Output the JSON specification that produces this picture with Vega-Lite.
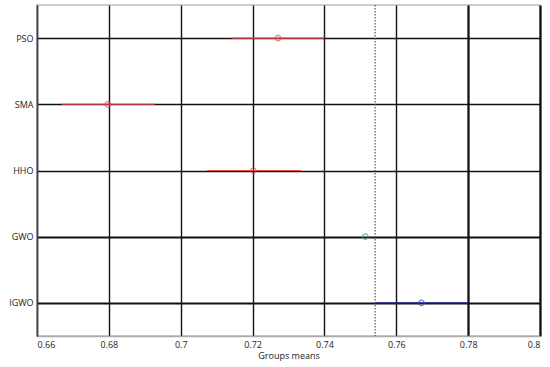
{
  "$schema": "https://vega.github.io/schema/vega-lite/v6.json",
  "width": 503,
  "height": 331,
  "autosize": {"type": "none"},
  "padding": {"left": 37, "top": 5, "right": 10, "bottom": 31},
  "background": "white",
  "config": {
    "view": {"stroke": "#bdbdbd", "strokeWidth": 1.5},
    "font": "Open Sans",
    "axis": {"labelFont": "Open Sans", "titleFont": "Open Sans", "labelColor": "#222", "titleColor": "#222"}
  },
  "data": {
    "values": [
      {"group": "PSO", "mean": 0.7271, "lo": 0.7142, "hi": 0.7400},
      {"group": "SMA", "mean": 0.6797, "lo": 0.6669, "hi": 0.6928},
      {"group": "HHO", "mean": 0.7202, "lo": 0.7074, "hi": 0.7335},
      {"group": "GWO", "mean": 0.7514, "lo": 0.7385, "hi": 0.7643},
      {"group": "IGWO", "mean": 0.7670, "lo": 0.7541, "hi": 0.7799}
    ]
  },
  "encoding": {
    "y": {
      "field": "group",
      "type": "nominal",
      "sort": ["PSO", "SMA", "HHO", "GWO", "IGWO"],
      "scale": {"type": "point", "padding": 0.5},
      "axis": {
        "title": null,
        "ticks": false,
        "labelPadding": 4,
        "labelFontSize": 9,
        "domainColor": "#444",
        "domainWidth": 1.5,
        "grid": true,
        "gridColor": "#111",
        "gridOpacity": 1,
        "gridWidth": {"condition": {"test": "datum.value === 'GWO' || datum.value === 'IGWO'", "value": 2.2}, "value": 1.5}
      }
    }
  },
  "layer": [
    {
      "mark": {"type": "rule", "strokeWidth": 1.1},
      "encoding": {
        "x": {
          "field": "lo",
          "type": "quantitative",
          "scale": {"domain": [0.66, 0.8], "nice": false, "zero": false},
          "axis": {
            "title": "Groups means",
            "titleFontSize": 9,
            "titleFontWeight": "normal",
            "titlePadding": 2,
            "values": [0.66, 0.68, 0.7, 0.72, 0.74, 0.76, 0.78, 0.8],
            "labelExpr": "format(datum.value, '.2~f')",
            "labelFontSize": 9,
            "labelPadding": 4,
            "ticks": false,
            "domainColor": "#aaaaaa",
            "domainWidth": 1.5,
            "grid": true,
            "gridColor": "#111",
            "gridOpacity": 1,
            "gridWidth": {"condition": {"test": "datum.value >= 0.775", "value": 2.3}, "value": 1.4}
          }
        },
        "x2": {"field": "hi"},
        "color": {
          "field": "group",
          "type": "nominal",
          "scale": {"domain": ["PSO", "SMA", "HHO", "GWO", "IGWO"], "range": ["#e8474c", "#e8474c", "#e8474c", "rgba(0,0,0,0)", "#22229a"]},
          "legend": null
        }
      }
    },
    {
      "data": {"values": [{"bound": 0.7541}]},
      "mark": {"type": "rule", "strokeDash": [1.5, 1.5], "color": "#555", "strokeWidth": 1.2},
      "encoding": {
        "x": {"field": "bound", "type": "quantitative"},
        "y": null
      }
    },
    {
      "mark": {"type": "point", "shape": "circle", "filled": false, "size": 30, "strokeWidth": 1.2},
      "encoding": {
        "x": {"field": "mean", "type": "quantitative"},
        "stroke": {
          "field": "group",
          "type": "nominal",
          "scale": {"domain": ["PSO", "SMA", "HHO", "GWO", "IGWO"], "range": ["#e8474c", "#e8474c", "#e8474c", "#2eaa55", "#4747dd"]},
          "legend": null
        }
      }
    }
  ],
  "resolve": {"scale": {"color": "independent", "stroke": "independent"}}
}
